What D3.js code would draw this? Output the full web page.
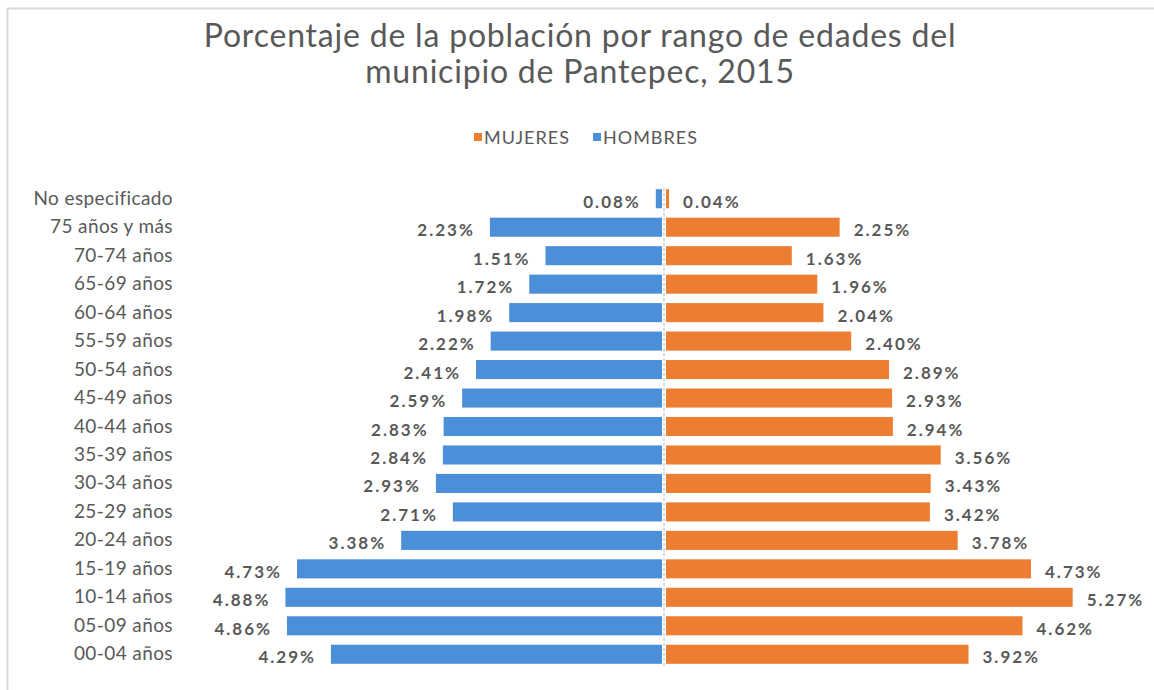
<!DOCTYPE html>
<html>
<head>
<meta charset="utf-8">
<script src="https://cdn.jsdelivr.net/npm/d3@7"></script>
<style>
  body { margin: 0; background: #fff; }
  text { font-family: Lato, "Open Sans", sans-serif; fill: #595959; }
</style>
</head>
<body>
<script>
var width = 1154, height = 690;

// datos
var edades = ["No especificado", "75 años y más", "70-74 años", "65-69 años", "60-64 años",
  "55-59 años", "50-54 años", "45-49 años", "40-44 años", "35-39 años", "30-34 años",
  "25-29 años", "20-24 años", "15-19 años", "10-14 años", "05-09 años", "00-04 años"];
var hombres = [0.08, 2.23, 1.51, 1.72, 1.98, 2.22, 2.41, 2.59, 2.83, 2.84, 2.93, 2.71, 3.38, 4.73, 4.88, 4.86, 4.29];
var mujeres = [0.04, 2.25, 1.63, 1.96, 2.04, 2.40, 2.89, 2.93, 2.94, 3.56, 3.43, 3.42, 3.78, 4.73, 5.27, 4.62, 3.92];
var series = ["MUJERES", "HOMBRES"];
var colores = {"MUJERES": "#ED7D31", "HOMBRES": "#4A8FD7"};

var cx = 664; // eje central

var svg = d3.select("body").append("svg")
  .attr("width", width)
  .attr("height", height);

// marco
svg.append("line").attr("x1", 7).attr("x2", width).attr("y1", 8.5).attr("y2", 8.5)
  .attr("stroke", "#d9d9d9").attr("stroke-width", 2);
svg.append("line").attr("x1", 7.5).attr("x2", 7.5).attr("y1", 8).attr("y2", height)
  .attr("stroke", "#d9d9d9").attr("stroke-width", 2);

// titulo
var titulo = ["Porcentaje de la población por rango de edades del", "municipio de Pantepec, 2015"];
svg.selectAll(".titulo").data(titulo).enter().append("text")
  .attr("class", "titulo")
  .attr("x", 580)
  .attr("y", function(d, i) { return 47 + i * 36; })
  .attr("text-anchor", "middle")
  .style("font-size", "32px")
  .style("letter-spacing", "0.8px")
  .text(function(d) { return d; });

// leyenda
var ley = svg.selectAll(".ley").data(series).enter().append("g")
  .attr("class", "ley")
  .attr("transform", function(d, i) { return "translate(" + (474 + i * 119) + ",138)"; });
ley.append("rect").attr("x", 0).attr("y", -5).attr("width", 8).attr("height", 8)
  .attr("fill", function(d) { return colores[d]; });
ley.append("text").attr("x", 10).attr("y", 6)
  .style("font-size", "18px")
  .style("letter-spacing", "1px")
  .text(function(d) { return d; });

// escalas
var y = d3.scaleBand()
  .domain(edades)
  .range([184.5, 668.5])
  .paddingInner(0.33)
  .paddingOuter(0.165);

var x = d3.scaleLinear()
  .domain([0, 6])
  .range([0, 463]);

// eje central
svg.append("line")
  .attr("x1", cx).attr("x2", cx)
  .attr("y1", 188).attr("y2", 668)
  .attr("stroke", "#c8d2dc").attr("stroke-width", 1.5)
  .attr("stroke-dasharray", "3,2");

// etiquetas de categorias
svg.selectAll(".cat").data(edades).enter().append("text")
  .attr("class", "cat")
  .attr("x", 173)
  .attr("y", function(d) { return y(d) + y.bandwidth() / 2 + 6; })
  .attr("text-anchor", "end")
  .style("font-size", "19px")
  .style("letter-spacing", "0.4px")
  .text(function(d) { return d; });

// barras hombres
svg.selectAll(".barH").data(hombres).enter().append("rect")
  .attr("class", "barH")
  .attr("x", function(d) { return cx - 2 - x(d); })
  .attr("y", function(d, i) { return y(edades[i]); })
  .attr("width", function(d) { return x(d); })
  .attr("height", y.bandwidth())
  .attr("fill", colores["HOMBRES"]);

// barras mujeres
svg.selectAll(".barM").data(mujeres).enter().append("rect")
  .attr("class", "barM")
  .attr("x", cx + 2)
  .attr("y", function(d, i) { return y(edades[i]); })
  .attr("width", function(d) { return x(d); })
  .attr("height", y.bandwidth())
  .attr("fill", colores["MUJERES"]);

// valores
svg.selectAll(".valH").data(hombres).enter().append("text")
  .attr("class", "valH")
  .attr("x", function(d) { return cx - 2 - x(d) - 15; })
  .attr("y", function(d, i) { return y(edades[i]) + y.bandwidth() / 2 + 9; })
  .attr("text-anchor", "end")
  .style("font-size", "17px")
  .style("letter-spacing", "2px")
  .style("font-weight", "bold")
  .text(function(d) { return d.toFixed(2) + "%"; });

svg.selectAll(".valM").data(mujeres).enter().append("text")
  .attr("class", "valM")
  .attr("x", function(d) { return cx + 2 + x(d) + 14; })
  .attr("y", function(d, i) { return y(edades[i]) + y.bandwidth() / 2 + 9; })
  .style("font-size", "17px")
  .style("letter-spacing", "2px")
  .style("font-weight", "bold")
  .text(function(d) { return d.toFixed(2) + "%"; });
</script>
</body>
</html>
